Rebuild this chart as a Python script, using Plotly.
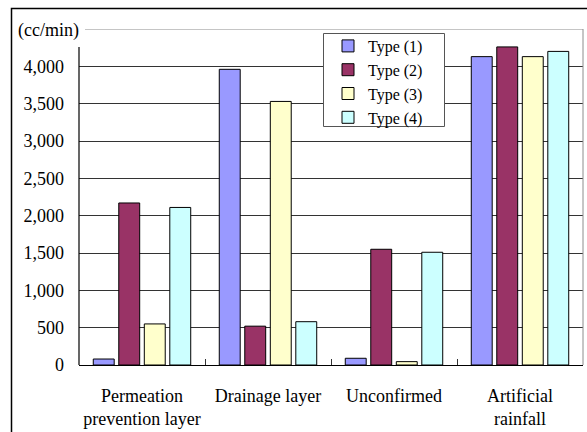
import plotly.graph_objects as go

# Flow rates by layer (cc/min)
categories = ["Permeation<br>prevention layer", "Drainage layer", "Unconfirmed", "Artificial<br>rainfall"]
type1 = [80, 3960, 90, 4130]
type2 = [2170, 520, 1550, 4260]
type3 = [550, 3530, 45, 4130]
type4 = [2110, 580, 1510, 4200]
series_names = ["Type (1)", "Type (2)", "Type (3)", "Type (4)"]
series_colors = ["#9999FF", "#993366", "#FFFFCC", "#CCFFFF"]
y_ticks = [0, 500, 1000, 1500, 2000, 2500, 3000, 3500, 4000]
y_max = 4500
unit_label = "(cc/min)"

W, H = 587, 432
ML, MR, MT, MB = 79, 4, 29, 67
PW, PH = W - ML - MR, H - MT - MB


def px_x(p):
    return (p - ML) / PW


def px_y(p):
    return (H - MB - p) / PH


FONT = "Liberation Serif, Times New Roman, serif"

fig = go.Figure()
for name, vals, col in zip(series_names, [type1, type2, type3, type4], series_colors):
    fig.add_trace(go.Bar(
        name=name, x=categories, y=vals,
        marker=dict(color=col, line=dict(color="#000000", width=1)),
    ))

shapes = [
    # outer chart frame
    dict(type="rect", xref="paper", yref="paper",
         x0=px_x(11.5), x1=px_x(W + 20), y0=px_y(H + 20), y1=px_y(8.5),
         line=dict(color="#000000", width=1.5), fillcolor="rgba(0,0,0,0)", layer="above"),
    # plot area top and right border
    dict(type="line", xref="paper", yref="y", x0=px_x(85), x1=1, y0=y_max, y1=y_max,
         line=dict(color="#8c8c8c", width=1)),
    dict(type="line", xref="paper", yref="y", x0=1, x1=1, y0=0, y1=y_max,
         line=dict(color="#8c8c8c", width=1)),
    # value axis line
    dict(type="line", xref="paper", yref="paper", x0=0, x1=0, y0=0, y1=px_y(47),
         line=dict(color="#000000", width=1.2), layer="above"),
    # legend frame
    dict(type="rect", xref="paper", yref="paper",
         x0=px_x(323.5), x1=px_x(444.5), y0=px_y(126.5), y1=px_y(33.5),
         line=dict(color="#555555", width=1), fillcolor="white", layer="above"),
]

fig.update_layout(
    width=W, height=H,
    margin=dict(l=ML, r=MR, t=MT, b=MB),
    paper_bgcolor="white", plot_bgcolor="white",
    font=dict(family=FONT, size=18, color="#000000"),
    barmode="group", bargap=0.19, bargroupgap=0.18,
    showlegend=True,
    legend=dict(
        x=px_x(328), y=px_y(29), xanchor="left", yanchor="top",
        bgcolor="rgba(0,0,0,0)", borderwidth=0,
        font=dict(family=FONT, size=16), tracegroupgap=0,
    ),
    shapes=shapes,
    annotations=[dict(
        text=unit_label, xref="paper", yref="y", x=0, y=y_max,
        xanchor="right", yanchor="middle", xshift=2, yshift=-1,
        showarrow=False, bgcolor="white", font=dict(family=FONT, size=18),
    )],
)

fig.update_xaxes(
    type="category", range=[-0.5, 3.5], automargin=False, tickangle=0,
    showline=True, linecolor="#000000", linewidth=1.2,
    showgrid=False, ticks="inside", ticklen=6, tickcolor="#333333",
    tickson="boundaries", ticklabelstandoff=14,
    tickfont=dict(family=FONT, size=18),
)
fig.update_yaxes(
    range=[0, y_max], tickvals=y_ticks, automargin=False,
    ticktext=[f"{v:,}" for v in y_ticks],
    showgrid=True, gridcolor="#333333", gridwidth=1,
    zeroline=False, showline=False, ticks="",
    ticklabelstandoff=14,
    tickfont=dict(family=FONT, size=18),
)

fig.write_html("out.html")
